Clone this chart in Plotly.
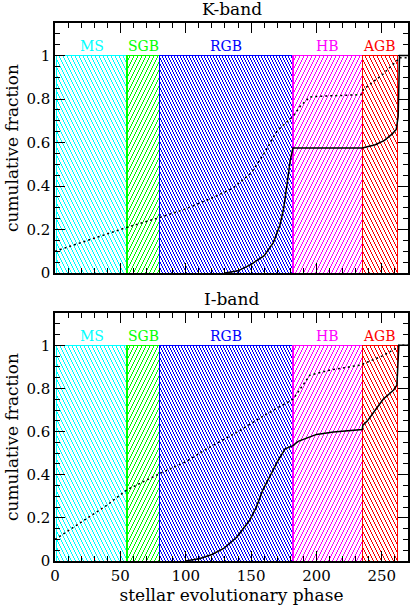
import math
import plotly.graph_objects as go
from plotly.subplots import make_subplots

# ---------------------------------------------------------------------------
# data
# ---------------------------------------------------------------------------
phase_names = ["MS", "SGB", "RGB", "HB", "AGB"]
phase_start = [1, 55, 80, 182, 235]
phase_end = [55, 80, 182, 235, 262]

# K-band
k_dot_x = [0, 55, 80, 100, 120, 136, 150, 160, 170, 182, 188, 195, 210, 234,
           236, 250, 262, 263, 270]
k_dot_y = [0.10, 0.21, 0.255, 0.295, 0.345, 0.39, 0.46, 0.55, 0.655, 0.72,
           0.77, 0.81, 0.815, 0.82, 0.845, 0.91, 0.98, 0.99, 0.99]
k_sol_x = [130, 140, 150, 160, 167, 172, 175, 178, 180, 182, 235, 245, 252,
           258, 261, 262.5, 263.5, 270]
k_sol_y = [0.0, 0.01, 0.04, 0.08, 0.14, 0.22, 0.30, 0.43, 0.52, 0.575, 0.575,
           0.59, 0.61, 0.64, 0.66, 0.72, 1.0, 1.0]

# I-band
i_dot_x = [0, 20, 40, 55, 80, 100, 116, 140, 160, 182, 189, 195, 210, 235,
           236, 250, 262, 263, 270]
i_dot_y = [0.10, 0.18, 0.26, 0.33, 0.405, 0.46, 0.52, 0.60, 0.675, 0.75,
           0.81, 0.862, 0.885, 0.91, 0.915, 0.95, 0.99, 1.0, 1.0]
i_sol_x = [100, 111, 120, 129, 139, 149, 154, 159, 165, 170, 176, 182, 186,
           190, 200, 213, 235, 235.5, 239, 245, 251, 259, 261.5, 263, 270]
i_sol_y = [0.0, 0.012, 0.03, 0.058, 0.11, 0.19, 0.25, 0.33, 0.40, 0.46, 0.52,
           0.535, 0.555, 0.565, 0.587, 0.598, 0.61, 0.63, 0.65, 0.70, 0.75,
           0.793, 0.815, 1.0, 1.0]

x_ticks = [0, 50, 100, 150, 200, 250]
y_ticks = [0, 0.2, 0.4, 0.6, 0.8, 1]
y_tick_text = ["0", "0.2", "0.4", "0.6", "0.8", "1"]

# ---------------------------------------------------------------------------
# style
# ---------------------------------------------------------------------------
phase_colors = ["#00ffff", "#00ff00", "#0000ff", "#ff00ff", "#ff0000"]
hatch_dir = [1, -1, 1, -1, 1]      # +1 = "\"  -1 = "/"
hatch_gap_px = [4, 4, 3, 4, 4]
FONT = "DejaVu Serif"
W, H = 415, 606
M = dict(l=55, r=7, t=23, b=45)
X_RANGE = [0, 270]
Y_RANGE = [0, 1.15]
PLOT_H = H - M["t"] - M["b"]                 # 538
top_dom = [288 / PLOT_H, 1.0]                # 250 px tall
bot_dom = [0.0, 248 / PLOT_H]                # 248 px tall


def hatch_lines(a, b, s, gap, top_px, sx, sy):
    """Hatch a box [a, b] x [0, 1] with 1px lines of slope 2 (page pixels).

    Lines are x = A + s*y/2 in page pixels with integer A, so every pixel row
    gets exactly one sharp pixel; the result is mapped back to data units.
    """
    X0 = M["l"] + a * sx
    X1 = M["l"] + b * sx
    Yt = top_px + (Y_RANGE[1] - 1) * sy
    Yb = top_px + Y_RANGE[1] * sy
    if s > 0:
        A, A_end = math.floor(X0 - Yb / 2), X1 - Yt / 2
    else:
        A, A_end = math.floor(X0 + Yt / 2), X1 + Yb / 2
    xs, ys = [], []
    while A <= A_end:
        if s > 0:
            lo, hi = 2 * (X0 - A), 2 * (X1 - A)
        else:
            lo, hi = 2 * (A - X1), 2 * (A - X0)
        lo, hi = max(lo, Yt), min(hi, Yb)
        if lo < hi:
            for yp in (lo, hi):
                xp = A + s * yp / 2
                xs.append((xp - M["l"]) / sx)
                ys.append(Y_RANGE[1] - (yp - top_px) / sy)
            xs.append(None)
            ys.append(None)
        A += gap
    return xs, ys


fig = make_subplots(rows=2, cols=1)

sx = (W - M["l"] - M["r"]) / (X_RANGE[1] - X_RANGE[0])

panels = [
    (1, top_dom, k_dot_x, k_dot_y, k_sol_x, k_sol_y, "K-band"),
    (2, bot_dom, i_dot_x, i_dot_y, i_sol_x, i_sol_y, "I-band"),
]

for row, dom, dx, dy, cx, cy, title in panels:
    sy = (dom[1] - dom[0]) * PLOT_H / (Y_RANGE[1] - Y_RANGE[0])
    top_px = M["t"] + (1 - dom[1]) * PLOT_H
    for a, b, col, d, g in zip(phase_start, phase_end, phase_colors,
                               hatch_dir, hatch_gap_px):
        hx, hy = hatch_lines(a, b, d, g, top_px, sx, sy)
        fig.add_trace(go.Scatter(x=hx, y=hy, mode="lines",
                                 line=dict(color=col, width=1),
                                 hoverinfo="skip", showlegend=False),
                      row=row, col=1)
    for name, a, b, col in zip(phase_names, phase_start, phase_end, phase_colors):
        fig.add_trace(go.Scatter(x=[a, a, b, b], y=[0, 1, 1, 0], mode="lines",
                                 line=dict(color=col, width=1.2),
                                 hoverinfo="skip", showlegend=False),
                      row=row, col=1)
        fig.add_annotation(x=(a + b) / 2, y=1.045, text=name, showarrow=False,
                           font=dict(family=FONT, size=14, color=col),
                           row=row, col=1)
    fig.add_trace(go.Scatter(x=dx, y=dy, mode="lines",
                             line=dict(color="black", width=1.5, dash="2px,3px"),
                             showlegend=False), row=row, col=1)
    fig.add_trace(go.Scatter(x=cx, y=cy, mode="lines",
                             line=dict(color="black", width=1.5),
                             showlegend=False), row=row, col=1)
    xa = "x" if row == 1 else "x2"
    ya = "y" if row == 1 else "y2"
    fig.add_annotation(xref=xa + " domain", yref=ya + " domain", x=0.5, y=1,
                       yanchor="bottom", yshift=2, text=title, showarrow=False,
                       font=dict(family=FONT, size=17, color="black"))

axis_common = dict(
    showline=True, linecolor="black", linewidth=1.5, mirror="allticks",
    ticks="inside", ticklen=10, tickwidth=1, tickcolor="black",
    showgrid=False, zeroline=False,
    tickfont=dict(family=FONT, size=15, color="black"),
    automargin=False,
)

fig.update_xaxes(range=X_RANGE, tickvals=x_ticks,
                 minor=dict(dtick=10, ticklen=5, ticks="inside", tickcolor="black",
                            showgrid=False),
                 **axis_common)
fig.update_yaxes(range=Y_RANGE, tickvals=y_ticks, ticktext=y_tick_text,
                 minor=dict(dtick=0.05, ticklen=5, ticks="inside", tickcolor="black",
                            showgrid=False),
                 title=dict(text="cumulative fraction", standoff=3,
                            font=dict(family=FONT, size=17, color="black")),
                 **axis_common)
fig.update_xaxes(showticklabels=False, row=1, col=1)
fig.update_xaxes(title=dict(text="stellar evolutionary phase", standoff=4,
                            font=dict(family=FONT, size=17, color="black")),
                 row=2, col=1)

fig.update_layout(
    width=W, height=H, margin=M,
    plot_bgcolor="white", paper_bgcolor="white",
    xaxis=dict(domain=[0, 1]), xaxis2=dict(domain=[0, 1]),
    yaxis=dict(domain=top_dom), yaxis2=dict(domain=bot_dom),
    showlegend=False,
)

# drop the default 8px body margin, and draw the hatching / box edges
# (first 10 traces of each subplot) pixel-sharp like the original raster
post = (
    "document.body.style.margin='0px';"
    "var s=document.createElement('style');"
    "s.textContent='.scatterlayer .trace:nth-child(-n+10) path.js-line"
    "{shape-rendering:crispEdges;}';"
    "document.head.appendChild(s);"
)
fig.write_html("out.html", config={"displayModeBar": False}, post_script=post)
